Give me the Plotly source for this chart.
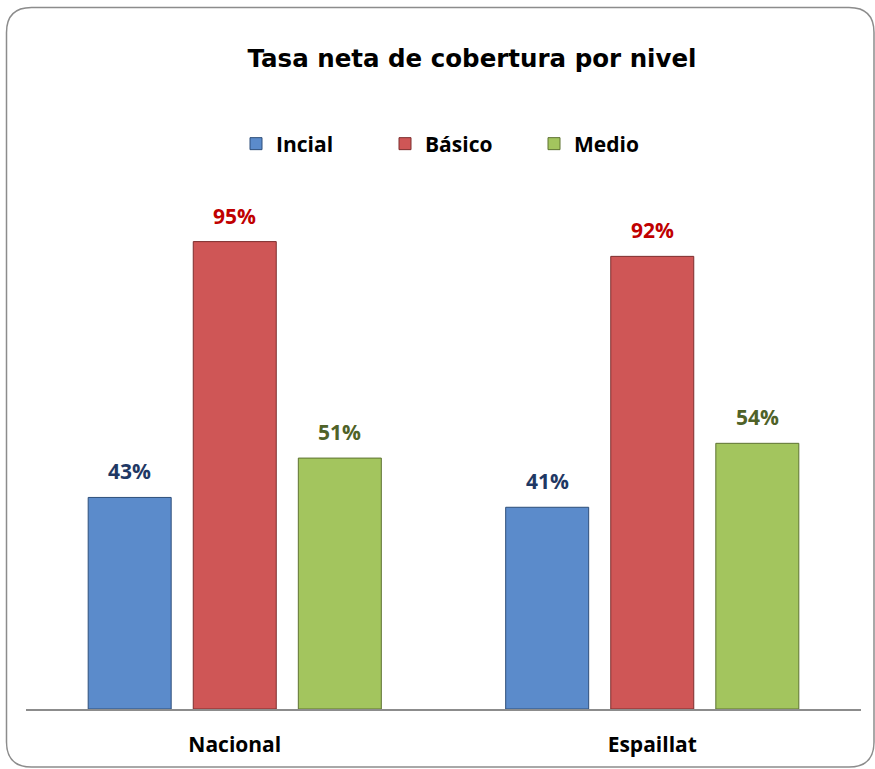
import plotly.graph_objects as go

categories = ["Nacional", "Espaillat"]
series_names = ["Incial", "Básico", "Medio"]
incial = [43, 41]
basico = [95, 92]
medio = [51, 54]
label_text_incial = ["43%", "41%"]
label_text_basico = ["95%", "92%"]
label_text_medio = ["51%", "54%"]

W, H = 875, 769
fill_colors = ["#5B8BCB", "#CF5656", "#A3C55E"]
edge_colors = ["#2E4F7A", "#7D2E2E", "#5E7331"]
label_colors = ["#1F3864", "#C00000", "#4F6228"]

x0_px, x1_px = 26, 861
y_base_px, y_top_px = 709, 217
bargap = 0.245
bargroupgap = 0.21

fig = go.Figure()
values = [incial, basico, medio]
labels = [label_text_incial, label_text_basico, label_text_medio]
for name, vals, fc, ec in zip(series_names, values, fill_colors, edge_colors):
    fig.add_trace(go.Bar(
        x=categories, y=vals, name=name,
        marker=dict(color=fc, line=dict(color=ec, width=1)),
        hoverinfo="skip",
    ))

# data labels above bars
cat_w = (x1_px - x0_px) / len(categories)
slot = (1 - bargap) * cat_w / len(series_names)
for i, (vals, labs, lc) in enumerate(zip(values, labels, label_colors)):
    shift = (i - (len(series_names) - 1) / 2) * slot
    for c, v, t in zip(categories, vals, labs):
        fig.add_annotation(
            x=c, y=v, xref="x", yref="y", text=t, showarrow=False,
            xshift=shift, yshift=26, yanchor="middle",
            font=dict(family="Open Sans", size=21, color=lc, weight="bold"),
        )

# rounded border
r = 25
bx0, by0, bx1, by1 = 6.5, 7.5, 874, 767
def px(x):
    return x / W
def py(y):
    return 1 - y / H
path = (f"M {px(bx0 + r)},{py(by0)} L {px(bx1 - r)},{py(by0)} "
        f"Q {px(bx1)},{py(by0)} {px(bx1)},{py(by0 + r)} "
        f"L {px(bx1)},{py(by1 - r)} Q {px(bx1)},{py(by1)} {px(bx1 - r)},{py(by1)} "
        f"L {px(bx0 + r)},{py(by1)} Q {px(bx0)},{py(by1)} {px(bx0)},{py(by1 - r)} "
        f"L {px(bx0)},{py(by0 + r)} Q {px(bx0)},{py(by0)} {px(bx0 + r)},{py(by0)} Z")
fig.add_shape(type="path", path=path, xref="paper", yref="paper",
              line=dict(color="#8C8C8C", width=1.5), layer="below")

fig.update_layout(
    width=W, height=H,
    margin=dict(l=0, r=0, t=0, b=0),
    paper_bgcolor="white", plot_bgcolor="white",
    barmode="group", bargap=bargap, bargroupgap=bargroupgap,
    title=dict(text="<b>Tasa neta de cobertura por nivel</b>",
               x=472 / W, xanchor="center", y=1 - 58 / H, yanchor="middle",
               font=dict(family="DejaVu Sans", size=24.5, color="black")),
    legend=dict(orientation="h", x=236 / W, xanchor="left",
                y=1 - 144 / H, yanchor="middle",
                font=dict(family="Open Sans", size=21, color="black", weight="bold"),
                entrywidth=104, itemwidth=30, bgcolor="rgba(0,0,0,0)"),
    xaxis=dict(domain=[x0_px / W, x1_px / W], showline=True, linecolor="#8C8C8C",
               linewidth=1.5, ticks="", ticklabelstandoff=16,
               tickfont=dict(family="Open Sans", size=21, color="black", weight="bold"),
               showgrid=False, zeroline=False, fixedrange=True),
    yaxis=dict(domain=[1 - y_base_px / H, 1 - y_top_px / H], range=[0, 100],
               visible=False, showgrid=False, zeroline=False, fixedrange=True),
    showlegend=True,
)

fig.write_html("out.html",
               config={"displayModeBar": False},
               post_script="document.body.style.margin='0';document.body.style.overflow='hidden';")
